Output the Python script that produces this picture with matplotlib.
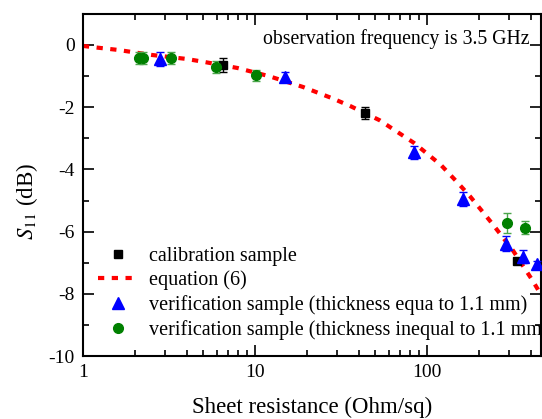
import numpy as np
import matplotlib
matplotlib.use("Agg")
import matplotlib.pyplot as plt
from matplotlib.ticker import LogLocator, MultipleLocator, FixedLocator

plt.rcParams['font.family'] = ['Liberation Serif', 'DejaVu Serif']
plt.rcParams['mathtext.fontset'] = 'stix'
plt.rcParams['axes.unicode_minus'] = False

# calibration sample
cal_x = [6.5, 43.6, 333]
cal_y = [-0.64, -2.19, -6.94]
cal_e = [0.22, 0.2, 0.1]

# verification sample, thickness equal to 1.1 mm
ver_x = [2.8, 14.9, 84, 162, 288, 361, 436]
ver_y = [-0.45, -1.03, -3.45, -4.94, -6.39, -6.80, -7.03]
ver_e = [0.22, 0.15, 0.2, 0.23, 0.24, 0.2, 0.1]

# verification sample, thickness not 1.1 mm
inq_x = [2.12, 2.23, 3.25, 5.93, 10.1, 292, 371]
inq_y = [-0.42, -0.42, -0.42, -0.71, -0.97, -5.71, -5.87]
inq_e = [0.18, 0.18, 0.2, 0.2, 0.18, 0.32, 0.2]

# equation (6)
eq_x = [1, 1.1, 1.6, 2.5, 4, 5, 7.9, 12, 19, 28, 36, 53, 84, 120, 152, 178, 239, 316, 408, 480]
eq_y = [-0.03, -0.06, -0.16, -0.32, -0.45, -0.54, -0.74, -1.0, -1.35, -1.71, -1.97, -2.42,
        -3.15, -3.85, -4.45, -4.87, -5.74, -6.61, -7.55, -8.2]

fig = plt.figure(figsize=(5.42, 4.19), dpi=100)
ax = fig.add_axes([0.153, 0.150, 0.846, 0.817])

ax.plot(eq_x, eq_y, color='red', lw=3, dashes=(1.5, 1.8), label='equation (6)', zorder=2)

# error bars first, markers on top (legend shows markers only)
ax.errorbar(cal_x, cal_y, yerr=cal_e, fmt='none', ecolor='black', capsize=3, elinewidth=1, zorder=3)
ax.errorbar(ver_x, ver_y, yerr=ver_e, fmt='none', ecolor='blue', capsize=3, elinewidth=1, zorder=3)
ax.errorbar(inq_x, inq_y, yerr=inq_e, fmt='none', ecolor='#4ca64c', capsize=3, elinewidth=1, zorder=3)
ax.plot(cal_x, cal_y, 's', color='black', ms=5.5, ls='none', label='calibration sample', zorder=4)
ax.plot(ver_x, ver_y, '^', color='blue', ms=8, ls='none',
        label='verification sample (thickness equa to 1.1 mm)', zorder=4)
ax.plot(inq_x, inq_y, 'o', color='green', ms=7, ls='none',
        label='verification sample (thickness inequal to 1.1 mm)', zorder=4)

ax.set_xscale('log')
ax.set_xlim(1, 462)
ax.set_ylim(-10, 1)
ax.xaxis.set_major_locator(FixedLocator([1, 10, 100]))
ax.set_xticklabels(['1', '10', '100'])
ax.xaxis.set_minor_locator(LogLocator(base=10, subs=np.arange(2, 10)))
ax.yaxis.set_major_locator(MultipleLocator(2))
ax.yaxis.set_minor_locator(MultipleLocator(1))
ax.tick_params(which='both', direction='in', top=True, right=True, labelsize=14, width=1.2)
ax.tick_params(which='major', length=8)
ax.tick_params(which='minor', length=4)
ax.tick_params(axis='x', pad=6)
ax.tick_params(axis='y', pad=6)
for s in ax.spines.values():
    s.set_linewidth(1.5)

ax.set_xlabel('Sheet resistance (Ohm/sq)', fontsize=16.5)
ax.xaxis.set_label_coords(0.5, -0.12)
ax.set_ylabel(r'$S_{11}$ (dB)', fontsize=16.5)
ax.yaxis.set_label_coords(-0.094, 0.453)

fig.text(263 / 542, 1 - 29 / 419, 'observation frequency is 3.5 GHz', fontsize=14.2,
         va='top', ha='left')

h, l = ax.get_legend_handles_labels()
order = [1, 0, 2, 3]
ax.legend([h[i] for i in order], [l[i] for i in order], loc='upper left',
          bbox_to_anchor=(0.033, 0.32), frameon=False, fontsize=14.5,
          handlelength=2.0, labelspacing=0.24, handletextpad=0.55,
          borderpad=0, borderaxespad=0)

fig.savefig('out.png', dpi=100)
